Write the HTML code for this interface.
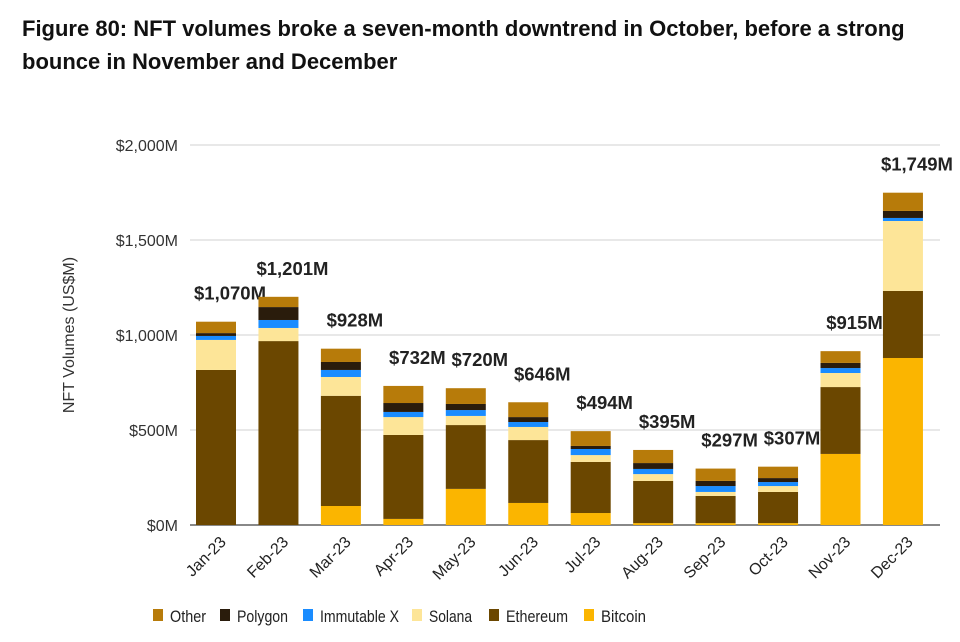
<!DOCTYPE html>
<html><head><meta charset="utf-8"><style>
body{margin:0;background:#fff;font-family:"Liberation Sans",sans-serif;}
#title{position:absolute;left:22px;top:12px;width:915px;font-size:22px;font-weight:bold;line-height:33px;color:#111;}
svg{position:absolute;left:0;top:0;}
</style></head><body>
<div id="title">Figure 80: NFT volumes broke a seven-month downtrend in October, before a strong bounce in November and December</div>
<svg id="chart" width="960" height="642"></svg>
<script>
const categories=["Jan-23","Feb-23","Mar-23","Apr-23","May-23","Jun-23","Jul-23","Aug-23","Sep-23","Oct-23","Nov-23","Dec-23"];
const bitcoin=[0,0,100,32,190,116,63,10,10,10,374,879];
const ethereum=[816,968,580,442,336,331,269,222,143,164,352,353];
const solana=[158,69,99,94,48,69,36,36,21,31,74,368];
const immutableX=[21,42,37,27,31,26,32,27,31,21,26,16];
const polygon=[15,68,42,47,32,26,16,31,27,21,27,37];
const other=[60,54,70,90,83,78,78,69,65,60,62,96];
const totalLabels=["$1,070M","$1,201M","$928M","$732M","$720M","$646M","$494M","$395M","$297M","$307M","$915M","$1,749M"];
const yTicks=[0,500,1000,1500,2000];
const yTickLabels=["$0M","$500M","$1,000M","$1,500M","$2,000M"];
const seriesNames=["Bitcoin","Ethereum","Solana","Immutable X","Polygon","Other"];
const series=[bitcoin,ethereum,solana,immutableX,polygon,other];
const colors=["#FBB500","#6B4700","#FDE598","#1A8CFF","#2A1C0C","#B77B0A"];

const NS="http://www.w3.org/2000/svg";
const svg=document.getElementById('chart');
function mk(t,a,txt){const e=document.createElementNS(NS,t);for(const k in a)e.setAttribute(k,a[k]);if(txt!=null)e.textContent=txt;svg.appendChild(e);return e;}
const y0=525,pxPerM=0.19;
const yS=v=>y0-v*pxPerM;
const xS=i=>216+i*62.45;
const bw=40;
yTicks.forEach((t,i)=>{
  const g=mk('line',{x1:190,x2:940,y1:yS(t),y2:yS(t),stroke:t===0?'#888':'#d9d9d9','stroke-width':t===0?2:1.3});
  
  
  const l=mk('text',{x:178,y:yS(t)+6,'text-anchor':'end','font-size':16,fill:'#333'},yTickLabels[i]);
  
  
});
const yt=mk('text',{x:74,y:yS(1000),'text-anchor':'middle','font-size':16,fill:'#333',transform:`rotate(-90 74 ${yS(1000)})`},'NFT Volumes (US$M)');


categories.forEach((c,i)=>{
  let cum=0;
  series.forEach((s,k)=>{
    const v=s[i];if(v<=0){return;}
    const r=mk('rect',{x:xS(i)-bw/2,y:yS(cum+v),width:bw,height:v*pxPerM,fill:colors[k]});
    
    
    cum+=v;
  });
  const tl=mk('text',{x:xS(i)+14,y:yS(cum)-22,'text-anchor':'middle','font-size':18.5,'font-weight':'bold',fill:'#222'},totalLabels[i]);
  
  
  const xl=mk('text',{x:xS(i)+3,y:535,'text-anchor':'end','font-size':16,fill:'#222',transform:`rotate(-45 ${xS(i)+3} 535)`,dy:'0.7em'},c);
  
  
});
const legX=[153,220,303,412,489,584];
const legLen=[36,51,79,43,62,45];
const legOrder=[5,4,3,2,1,0];
legOrder.forEach((k,j)=>{
  const sq=mk('rect',{x:legX[j],y:609,width:10,height:12,fill:colors[k]});
  
  
  const t=mk('text',{x:legX[j]+17,y:622,'font-size':17,fill:'#222',textLength:legLen[j],lengthAdjust:'spacingAndGlyphs'},seriesNames[k]);
  
  
});
</script>
</body></html>
